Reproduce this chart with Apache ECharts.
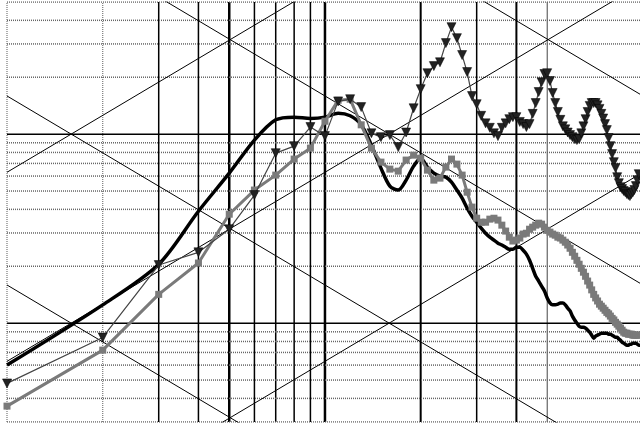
<!DOCTYPE html>
<html>
<head>
<meta charset="utf-8">
<script src="https://cdn.jsdelivr.net/npm/echarts@6/dist/echarts.min.js"></script>
<style>html,body{margin:0;padding:0;background:#fff;}#c{width:640px;height:425px;}</style>
</head>
<body>
<div id="c"></div>
<script>
// Frequencies (x values)
const freqs = [1,2,3,4,5,6,7,8,9,10,11,12,13,14,15,16,17,18,19,20,21,22,23,24,25,26,27,28,29,30,31,32,33,34,35,36,37,38,39,40,41,42,43,44,45,46,47,48,49,50,51,52,53,54,55,56,57,58,59,60,61,62,63,64,65,66,67,68,69,70,71,72,73,74,75,76,77,78,79,80,81,82,83,84,85,86,87,88,89,90,91,92,93,94,95,96,97,98];

// Black thick curve
const blackVals = [0.60,1.25,2.05,3.91,6.22,9.30,11.9,12.3,12.1,12.3,12.9,12.5,11.2,8.74,6.61,5.31,5.06,5.71,6.77,7.46,6.69,6.22,5.99,5.92,5.57,5.06,4.59,4.06,3.68,3.42,3.18,2.99,2.85,2.75,2.65,2.59,2.52,2.46,2.46,2.52,2.52,2.43,2.32,2.15,1.95,1.77,1.67,1.57,1.48,1.36,1.28,1.25,1.25,1.26,1.28,1.28,1.25,1.20,1.16,1.09,1.04,1.00,0.964,0.952,0.952,0.941,0.918,0.896,0.864,0.833,0.853,0.864,0.874,0.885,0.885,0.885,0.885,0.874,0.874,0.864,0.853,0.843,0.843,0.823,0.813,0.793,0.784,0.774,0.765,0.765,0.774,0.774,0.784,0.784,0.784,0.774,0.765,0.765];

// Dark triangle-marker series
const triVals = [0.48,0.84,2.03,2.37,3.14,4.76,7.93,8.64,10.9,9.76,14.9,15.3,13.9,10.1,9.64,9.88,8.54,10.2,13.7,17.3,21.0,22.9,24.0,30.3,36.8,32.2,26.2,21.3,15.9,14.4,12.5,11.4,10.8,10.1,9.76,10.8,11.4,12.0,12.3,12.3,11.6,11.3,10.9,11.3,12.8,14.6,16.7,18.8,20.8,21.0,19.1,16.5,14.6,13.1,11.9,11.0,10.6,10.2,9.88,9.64,9.41,9.30,9.41,10.1,11.0,12.0,13.1,14.1,14.6,14.6,14.6,14.2,13.6,12.8,12.1,11.3,10.5,9.53,8.64,7.84,7.11,6.61,5.92,5.50,5.24,5.12,5.00,4.93,4.82,4.76,4.70,4.82,4.93,5.06,5.31,5.71,6.14,6.45];

// Gray square-marker series
const sqVals = [0.364,0.72,1.42,2.08,3.77,5.06,6.07,7.38,8.43,11.7,15.1,15.3,11.2,8.43,7.11,6.53,6.37,7.29,7.74,7.46,6.45,5.71,5.85,6.69,7.38,6.94,6.07,4.93,4.11,3.59,3.42,3.42,3.55,3.59,3.51,3.30,3.07,2.85,2.72,2.75,2.82,2.96,2.99,3.14,3.22,3.30,3.38,3.34,3.22,3.10,3.03,2.96,2.92,2.85,2.82,2.75,2.68,2.59,2.49,2.37,2.26,2.15,2.05,1.95,1.86,1.77,1.67,1.59,1.50,1.42,1.36,1.31,1.26,1.23,1.20,1.17,1.14,1.12,1.09,1.06,1.04,1.01,0.988,0.964,0.941,0.918,0.896,0.885,0.885,0.874,0.874,0.874,0.864,0.864,0.864,0.864,0.864,0.864];

// Grid line positions
const xGridVals = [1,2,3,4,5,6,7,8,9,10,20,30,40,50];
const yGridVals = [0.3,0.4,0.5,0.6,0.7,0.8,0.9,1,2,3,4,5,6,7,8,9,10,20,30,40,50];

// Diagonal reference lines (endpoints in data units)
const diagLines = [
  [[1, 6.283], [100, 628.3]],
  [[1, 0.6283], [100, 62.83]],
  [[1, 0.06283], [100, 6.283]],
  [[1, 1.592], [100, 0.01592]],
  [[1, 15.92], [100, 0.1592]],
  [[1, 159.2], [100, 1.592]],
  [[1, 1592], [100, 15.92]]
];

const X_MIN = 1, X_MAX = 97.9, Y_MIN = 0.3, Y_MAX = 50;

const series = [];
function vStyle(v){
  if (v === 1 || v === 2) return {color:'#777', width:1.2, type:[1,1]};
  if (v === 50) return {color:'#444', width:1, type:'solid'};
  if (v === 5 || v === 10) return {color:'#000', width:2.5, type:'solid'};
  if (v === 20 || v === 40) return {color:'#000', width:2, type:'solid'};
  return {color:'#000', width:1.5, type:'solid'};
}
xGridVals.forEach(v => {
  series.push({type:'line', data:[[v, Y_MIN],[v, Y_MAX]], symbol:'none', silent:true, z:1,
    lineStyle: vStyle(v), animation:false});
});
yGridVals.forEach(v => {
  const solid = (v === 1 || v === 10);
  series.push({type:'line', data:[[X_MIN, v],[X_MAX, v]], symbol:'none', silent:true, z:1,
    lineStyle: solid ? {color:'#000', width:1.5, type:'solid'} : {color:'#666', width:1.5, type:[1,1]},
    animation:false});
});
diagLines.forEach(d => {
  series.push({type:'line', data:d, symbol:'none', silent:true, z:2, clip:true,
    lineStyle:{color:'#000', width:1}, animation:false});
});

series.push({type:'line', name:'black', data: freqs.map((f,i)=>[f, blackVals[i]]), symbol:'none', smooth:0.3, z:3,
  lineStyle:{color:'#000', width:3.5}, animation:false});
series.push({type:'line', name:'square', data: freqs.map((f,i)=>[f, sqVals[i]]), symbol:'rect', symbolSize:7, z:4,
  itemStyle:{color:'#7a7a7a'}, lineStyle:{color:'#7a7a7a', width:3}, animation:false});
series.push({type:'line', name:'tri', data: freqs.map((f,i)=>[f, triVals[i]]), symbol:'triangle', symbolRotate:180, symbolSize:9, z:5,
  itemStyle:{color:'#222', borderColor:'#000', borderWidth:0.5}, lineStyle:{color:'#444', width:1.2}, animation:false});

const chart = echarts.init(document.getElementById('c'), null, {renderer:'canvas'});
chart.setOption({
  animation:false,
  backgroundColor:'#fff',
  grid:{left:7, right:0, top:2, bottom:3, containLabel:false},
  xAxis:{type:'log', min:X_MIN, max:X_MAX, logBase:10, axisLine:{show:false}, axisTick:{show:false}, axisLabel:{show:false}, splitLine:{show:false}},
  yAxis:{type:'log', min:Y_MIN, max:Y_MAX, logBase:10, axisLine:{show:false}, axisTick:{show:false}, axisLabel:{show:false}, splitLine:{show:false}},
  series: series
});
</script>
</body>
</html>
